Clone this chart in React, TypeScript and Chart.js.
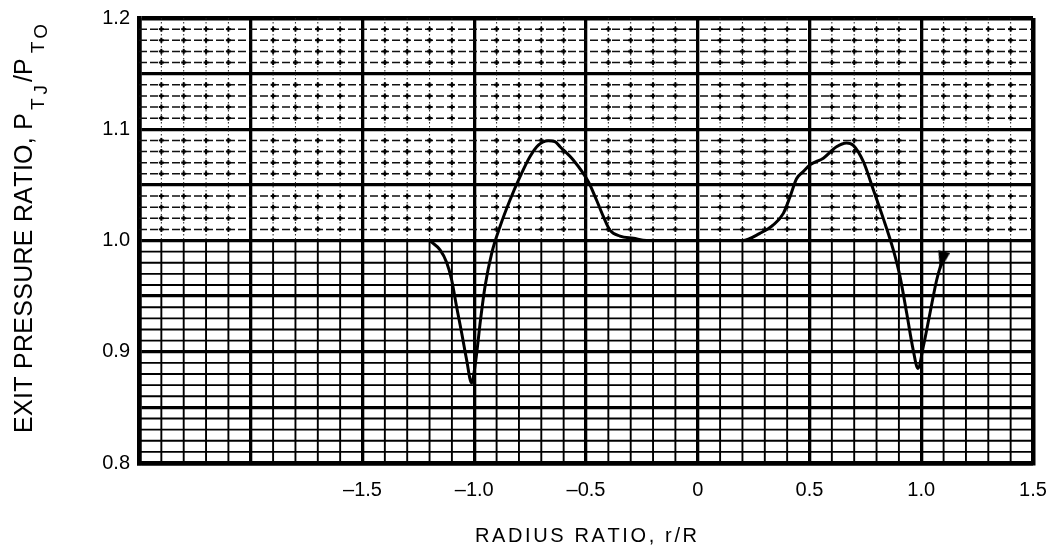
import React, { useEffect, useRef } from "react";
import { Chart, registerables } from "chart.js";

Chart.register(...registerables);

// ---- data ----
const radiusRatio = [
  -1.2, -1.153, -1.123, -1.101, -1.079, -1.056, -1.034, -1.012, -0.993, -0.972,
  -0.952, -0.922, -0.885, -0.84, -0.795, -0.751, -0.713, -0.669, -0.64, -0.616,
  -0.557, -0.49, -0.453, -0.422, -0.393, -0.348, -0.288, -0.229, -0.1, 0.0,
  0.1, 0.2, 0.278, 0.338, 0.383, 0.413, 0.442, 0.472, 0.502, 0.562,
  0.621, 0.666, 0.696, 0.741, 0.786, 0.83, 0.875, 0.905, 0.935, 0.964,
  0.985, 1.009, 1.039, 1.069, 1.093,
];
const exitPressureRatio = [
  1.0, 0.9915, 0.98, 0.9645, 0.9405, 0.9166, 0.8926, 0.872, 0.8926, 0.9286,
  0.9585, 0.9885, 1.0124, 1.0364, 1.0574, 1.0753, 1.0858, 1.0897, 1.089, 1.0843,
  1.0724, 1.053, 1.0364, 1.0214, 1.0094, 1.004, 1.002, 1.0, 1.0, 1.0,
  1.0, 1.0, 1.0064, 1.014, 1.0244, 1.0394, 1.0555, 1.0619, 1.068, 1.074,
  1.0843, 1.0877, 1.0855, 1.0708, 1.0454, 1.0199, 0.9915, 0.9675, 0.9346, 0.9016,
  0.885, 0.9045, 0.9346, 0.9645, 0.9816,
];

const xTickValues = [-1.5, -1.0, -0.5, 0, 0.5, 1.0, 1.5];
const xTickLabels = ["–1.5", "–1.0", "–0.5", "0", "0.5", "1.0", "1.5"];
const yTickValues = [0.8, 0.9, 1.0, 1.1, 1.2];
const yTickLabels = ["0.8", "0.9", "1.0", "1.1", "1.2"];

const xTitle = "RADIUS RATIO, r/R";
const yTitleTexts = ["EXIT PRESSURE RATIO, P", "T", "J", "/P", "T", "O"];
const yTitleLevels = [0, 1, 2, 0, 1, 2];
const yTitleGaps = [3, 4, 3, 5, 3, 0];

const FONT = '"Liberation Sans", Arial, Helvetica, sans-serif';

const near = (a: number, b: number) => Math.abs(a - b) < 1e-6;
const isMult = (v: number, step: number) => Math.abs(v / step - Math.round(v / step)) < 1e-6;

function makeArrow() {
  const c = document.createElement("canvas");
  c.width = 12;
  c.height = 19;
  const g = c.getContext("2d")!;
  g.fillStyle = "#000";
  g.beginPath();
  g.moveTo(0, 0);
  g.lineTo(12, 0);
  g.lineTo(6, 19);
  g.closePath();
  g.fill();
  return c;
}

function drawSpaced(ctx: CanvasRenderingContext2D, text: string, x: number, y: number, target: number) {
  const chars = text.split("");
  const widths = chars.map((c) => ctx.measureText(c).width);
  const natural = widths.reduce((a, b) => a + b, 0);
  const sp = chars.length > 1 ? (target - natural) / (chars.length - 1) : 0;
  let cx = x;
  chars.forEach((c, i) => {
    ctx.fillText(c, cx, y);
    cx += widths[i] + sp;
  });
}

const paperPlugin = {
  id: "paper",
  beforeDatasetsDraw(chart: any) {
    const { ctx, chartArea: a, scales } = chart;
    const xs = scales.x;
    const ys = scales.y;
    const ySplit = ys.getPixelForValue(1.0);
    ctx.save();
    ctx.beginPath();
    ctx.rect(a.left, a.top, a.right - a.left, a.bottom - a.top);
    ctx.clip();

    const vx: number[] = [];
    for (let i = -25; i <= 15; i++) if (i % 5 !== 0) vx.push(xs.getPixelForValue(i / 10));
    const hyLow: number[] = [];
    const hyHigh: number[] = [];
    for (let j = 80; j <= 120; j++) {
      if (j % 5 === 0) continue;
      const py = ys.getPixelForValue(j / 100);
      if (j < 100) hyLow.push(py);
      else hyHigh.push(py);
    }

    // lower half: solid, heavy
    ctx.strokeStyle = "#000";
    ctx.lineWidth = 1.9;
    ctx.setLineDash([]);
    ctx.beginPath();
    vx.forEach((px) => {
      ctx.moveTo(px, ySplit);
      ctx.lineTo(px, a.bottom);
    });
    hyLow.forEach((py) => {
      ctx.moveTo(a.left, py);
      ctx.lineTo(a.right, py);
    });
    ctx.stroke();

    // upper half: dotted verticals, dashed horizontals
    ctx.strokeStyle = "#222";
    ctx.lineWidth = 1;
    ctx.setLineDash([1.5, 2.5]);
    ctx.beginPath();
    vx.forEach((px) => {
      ctx.moveTo(px, a.top);
      ctx.lineTo(px, ySplit);
    });
    ctx.stroke();
    ctx.strokeStyle = "#111";
    ctx.lineWidth = 1.5;
    ctx.setLineDash([8, 3]);
    ctx.beginPath();
    hyHigh.forEach((py) => {
      ctx.moveTo(a.left, py);
      ctx.lineTo(a.right, py);
    });
    ctx.stroke();
    ctx.setLineDash([]);
    ctx.fillStyle = "#000";
    vx.forEach((px) => {
      hyHigh.forEach((py) => {
        ctx.fillRect(px - 2.5, py - 1, 5, 2);
        ctx.fillRect(px - 1, py - 2.5, 2, 5);
      });
    });
    ctx.restore();
  },
  afterDraw(chart: any) {
    const { ctx } = chart;
    ctx.save();
    ctx.fillStyle = "#000";
    ctx.textBaseline = "alphabetic";
    ctx.textAlign = "left";
    // x-axis title
    ctx.font = `20px ${FONT}`;
    drawSpaced(ctx, xTitle, 475, 542, 222);
    // y-axis title (rotated, with subscripts)
    ctx.translate(32, 433);
    ctx.rotate(-Math.PI / 2);
    let cursor = 0;
    yTitleTexts.forEach((t, i) => {
      const lvl = yTitleLevels[i];
      const size = lvl === 0 ? 25 : 19;
      ctx.font = `${size}px ${FONT}`;
      const off = lvl === 0 ? 0 : lvl === 1 ? 12 : 15;
      if (i === 0) {
        drawSpaced(ctx, t, 0, 0, 320);
        cursor = 320;
      } else {
        ctx.fillText(t, cursor, off);
        cursor += ctx.measureText(t).width;
      }
      cursor += yTitleGaps[i];
    });
    ctx.restore();
  },
};

export default function App() {
  const ref = useRef<HTMLCanvasElement | null>(null);
  useEffect(() => {
    if (!ref.current) return;
    const arrow = makeArrow();
    const last = radiusRatio.length - 1;
    const chart = new Chart(ref.current, {
      type: "line",
      data: {
        datasets: [
          {
            data: radiusRatio.map((x, i) => ({ x, y: exitPressureRatio[i] })),
            borderColor: "#000",
            backgroundColor: "#000",
            borderWidth: 3,
            cubicInterpolationMode: "monotone",
            fill: false,
            pointRadius: (c: any) => (c.dataIndex === last ? 8 : 0),
            pointStyle: (c: any) => (c.dataIndex === last ? arrow : "circle"),
            pointRotation: (c: any) => (c.dataIndex === last ? 13 : 0),
          } as any,
        ],
      },
      options: {
        animation: false,
        responsive: false,
        events: [],
        layout: { padding: { top: 18, right: 14, left: 0, bottom: 0 } },
        plugins: { legend: { display: false }, tooltip: { enabled: false } },
        scales: {
          x: {
            type: "linear",
            min: -2.5,
            max: 1.5,
            afterBuildTicks: (s: any) => {
              const t = [];
              for (let i = -25; i <= 15; i++) t.push({ value: i / 10 });
              s.ticks = t;
            },
            afterFit: (s: any) => {
              s.height = 87;
              s.paddingLeft = 0;
              s.paddingRight = 0;
            },
            ticks: {
              autoSkip: false,
              maxRotation: 0,
              minRotation: 0,
              padding: 15,
              color: "#000",
              font: { family: FONT, size: 20 },
              callback: (v: any) => {
                const k = xTickValues.findIndex((t) => near(t, Number(v)));
                return k >= 0 ? xTickLabels[k] : "";
              },
            },
            grid: {
              drawTicks: false,
              color: (c: any) => (c.tick && isMult(c.tick.value, 0.5) ? "#000" : "rgba(0,0,0,0)"),
              lineWidth: (c: any) =>
                c.tick && (near(c.tick.value, 1.5) || near(c.tick.value, -2.5)) ? 4.5 : 3.3,
            },
            border: { color: "#000", width: 4.5 },
          },
          y: {
            type: "linear",
            min: 0.8,
            max: 1.2,
            afterBuildTicks: (s: any) => {
              const t = [];
              for (let j = 80; j <= 120; j++) t.push({ value: j / 100 });
              s.ticks = t;
            },
            afterFit: (s: any) => {
              s.width = 139;
              s.paddingTop = 0;
              s.paddingBottom = 0;
            },
            ticks: {
              autoSkip: false,
              padding: 9,
              color: "#000",
              font: { family: FONT, size: 20 },
              callback: (v: any) => {
                const k = yTickValues.findIndex((t) => near(t, Number(v)));
                return k >= 0 ? yTickLabels[k] : "";
              },
            },
            grid: {
              drawTicks: false,
              color: (c: any) => (c.tick && isMult(c.tick.value, 0.05) ? "#000" : "rgba(0,0,0,0)"),
              lineWidth: (c: any) =>
                c.tick && (near(c.tick.value, 1.2) || near(c.tick.value, 0.8)) ? 4.5 : 3.3,
            },
            border: { color: "#000", width: 4.5 },
          },
        },
      },
      plugins: [paperPlugin],
    });
    return () => chart.destroy();
  }, []);
  return (
    <div style={{ position: "fixed", left: 0, top: 0, width: 1047, height: 550, background: "#fff" }}>
      <canvas ref={ref} width={1047} height={550} style={{ display: "block" }} />
    </div>
  );
}
